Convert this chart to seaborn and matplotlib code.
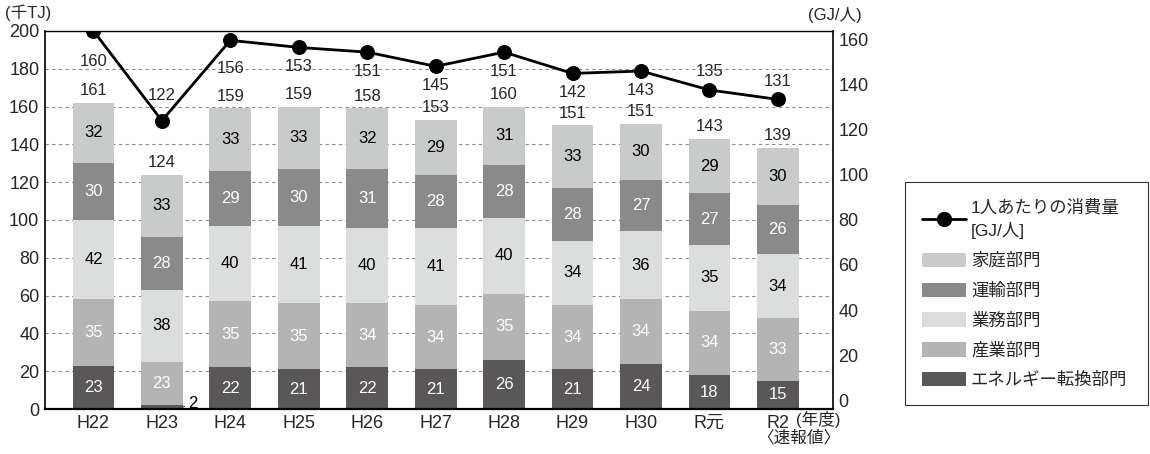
import numpy as np
import pandas as pd
import matplotlib
matplotlib.use("Agg")
import matplotlib.pyplot as plt
from matplotlib.patches import Patch
from matplotlib.lines import Line2D
import matplotlib.transforms as mtransforms
import seaborn as sns

# ---------------- data ----------------
years = ["H22", "H23", "H24", "H25", "H26", "H27", "H28", "H29", "H30", "R元", "R2"]
energy_conv = [23, 2, 22, 21, 22, 21, 26, 21, 24, 18, 15]      # エネルギー転換部門
industry = [35, 23, 35, 35, 34, 34, 35, 34, 34, 34, 33]         # 産業部門
business = [42, 38, 40, 41, 40, 41, 40, 34, 36, 35, 34]         # 業務部門
transport = [30, 28, 29, 30, 31, 28, 28, 28, 27, 27, 26]        # 運輸部門
household = [32, 33, 33, 33, 32, 29, 31, 33, 30, 29, 30]        # 家庭部門
totals = [161, 124, 159, 159, 158, 153, 160, 151, 151, 143, 139]
per_capita = [160, 122, 156, 153, 151, 145, 151, 142, 143, 135, 131]

# label offsets (points) for the per-capita values: negative = below the marker
per_capita_label_offset = [-22, 18, -20, -14, -14, -14, -14, -14, -14, 13, 13]

sector_names = ["エネルギー転換部門", "産業部門", "業務部門", "運輸部門", "家庭部門"]
sector_values = [energy_conv, industry, business, transport, household]
sector_colors = ["#595757", "#b4b4b4", "#dcdddd", "#8a8a8a", "#c9caca"]
sector_text_colors = ["white", "white", "black", "white", "black"]

# ---------------- style ----------------
sns.set_style("white")
plt.rcParams["font.family"] = ["Liberation Sans", "Noto Sans CJK JP", "DejaVu Sans"]

fig = plt.figure(figsize=(11.5, 4.54), dpi=100)
ax = fig.add_axes([0.039, 0.099, 0.685, 0.833])

n = len(years)
x = np.arange(n)
df = pd.DataFrame({"year": years})
cum = np.zeros(n)
cums = []
for vals in sector_values:
    cum = cum + np.array(vals)
    cums.append(cum.copy())

# stacked bars: draw cumulative heights from top layer down
bar_width = 0.61
for i in range(len(sector_values) - 1, -1, -1):
    df["h"] = cums[i]
    sns.barplot(data=df, x="year", y="h", color=sector_colors[i], width=bar_width,
                saturation=1, ax=ax, zorder=2, linewidth=0, edgecolor="none")

# segment labels
for i, vals in enumerate(sector_values):
    for j in range(n):
        v = vals[j]
        mid = cums[i][j] - v / 2
        if v < 5:
            ax.annotate(str(v), xy=(j + bar_width / 2, cums[i][j] / 2), xytext=(j + 0.45, 3.0),
                        fontsize=12, ha="center", va="center", color="black",
                        arrowprops=dict(arrowstyle="-", color="black", lw=0.6, shrinkA=3, shrinkB=0),
                        zorder=5)
        else:
            ax.text(j, mid, str(v), ha="center", va="center", fontsize=12,
                    color=sector_text_colors[i], zorder=5)

# total labels
for j in range(n):
    ax.text(j, cums[-1][j] + 2.5, str(totals[j]), ha="center", va="bottom", fontsize=12, zorder=5)

ax.set_xlim(-0.71, n - 0.2)
ax.set_ylim(0, 200)
ax.set_yticks(np.arange(0, 201, 20))
ax.set_xlabel("")
ax.set_ylabel("")
ax.set_axisbelow(True)
ax.yaxis.grid(True, linestyle=(0, (3, 3)), color="#8c8c8c", linewidth=0.8)
ax.xaxis.grid(False)
for s in ["left", "bottom", "top", "right"]:
    ax.spines[s].set_visible(True)
    ax.spines[s].set_color("black")
ax.spines["left"].set_linewidth(1.2)
ax.spines["bottom"].set_linewidth(1.6)
ax.spines["top"].set_linewidth(1.0)
ax.spines["right"].set_linewidth(1.2)
ax.tick_params(axis="both", length=0, labelsize=13, pad=4)
ax.set_xticks(x)
ax.set_xticklabels(years)

# secondary axis: per capita
ax2 = ax.twinx()
sns.lineplot(x=x, y=per_capita, ax=ax2, color="black", linewidth=2, marker="o",
             markersize=10, markeredgecolor="black", zorder=6)
ax2.set_ylim(0, 160)
right_ticks = np.arange(0, 161, 20)
ax2.set_yticks(right_ticks)
ax2.tick_params(axis="y", length=0, labelsize=13, pad=4)
for s in ax2.spines.values():
    s.set_visible(False)
ax2.grid(False)
# the reference's right-hand scale labels sit slightly compressed toward the middle
for tv, tk in zip(right_ticks, ax2.yaxis.get_major_ticks()):
    dy = (9 - 18 * tv / 160) / 100.0
    off = mtransforms.ScaledTranslation(0, dy, fig.dpi_scale_trans)
    tk.label2.set_transform(tk.label2.get_transform() + off)

for j in range(n):
    ax2.annotate(str(per_capita[j]), (j, per_capita[j]), xytext=(0, per_capita_label_offset[j]),
                 textcoords="offset points", ha="center", va="center", fontsize=12)

# unit labels
fig.text(0.004, 0.972, "(千TJ)", fontsize=12, ha="left", va="center")
fig.text(0.703, 0.966, "(GJ/人)", fontsize=12, ha="left", va="center")

# extra x-label text for R2
trans = mtransforms.blended_transform_factory(ax.transData, fig.transFigure)
ax.text(n - 1 + 0.27, 0.077, "(年度)", transform=trans, fontsize=12, ha="left", va="center")
ax.text(n - 1 + 0.3, 0.035, "〈速報値〉", transform=trans, fontsize=12, ha="center", va="center")

# legend
handles = [Line2D([0], [0], color="black", lw=2, marker="o", markersize=10)]
labels = ["1人あたりの消費量\n[GJ/人]"]
for i in range(len(sector_names) - 1, -1, -1):
    handles.append(Patch(facecolor=sector_colors[i], edgecolor="none"))
    labels.append(sector_names[i])
leg = fig.legend(handles, labels, loc="lower left", bbox_to_anchor=(0.787, 0.107, 0.211, 0.49),
                 mode="expand", fontsize=12.5, frameon=True, fancybox=False, handlelength=2.5,
                 handleheight=0.9, labelspacing=0.78, borderpad=1.0, handletextpad=0.3,
                 borderaxespad=0)
for t in leg.get_texts():
    t.set_linespacing(1.45)
leg.get_frame().set_edgecolor("black")
leg.get_frame().set_linewidth(0.8)

fig.savefig("out.png", dpi=100)
